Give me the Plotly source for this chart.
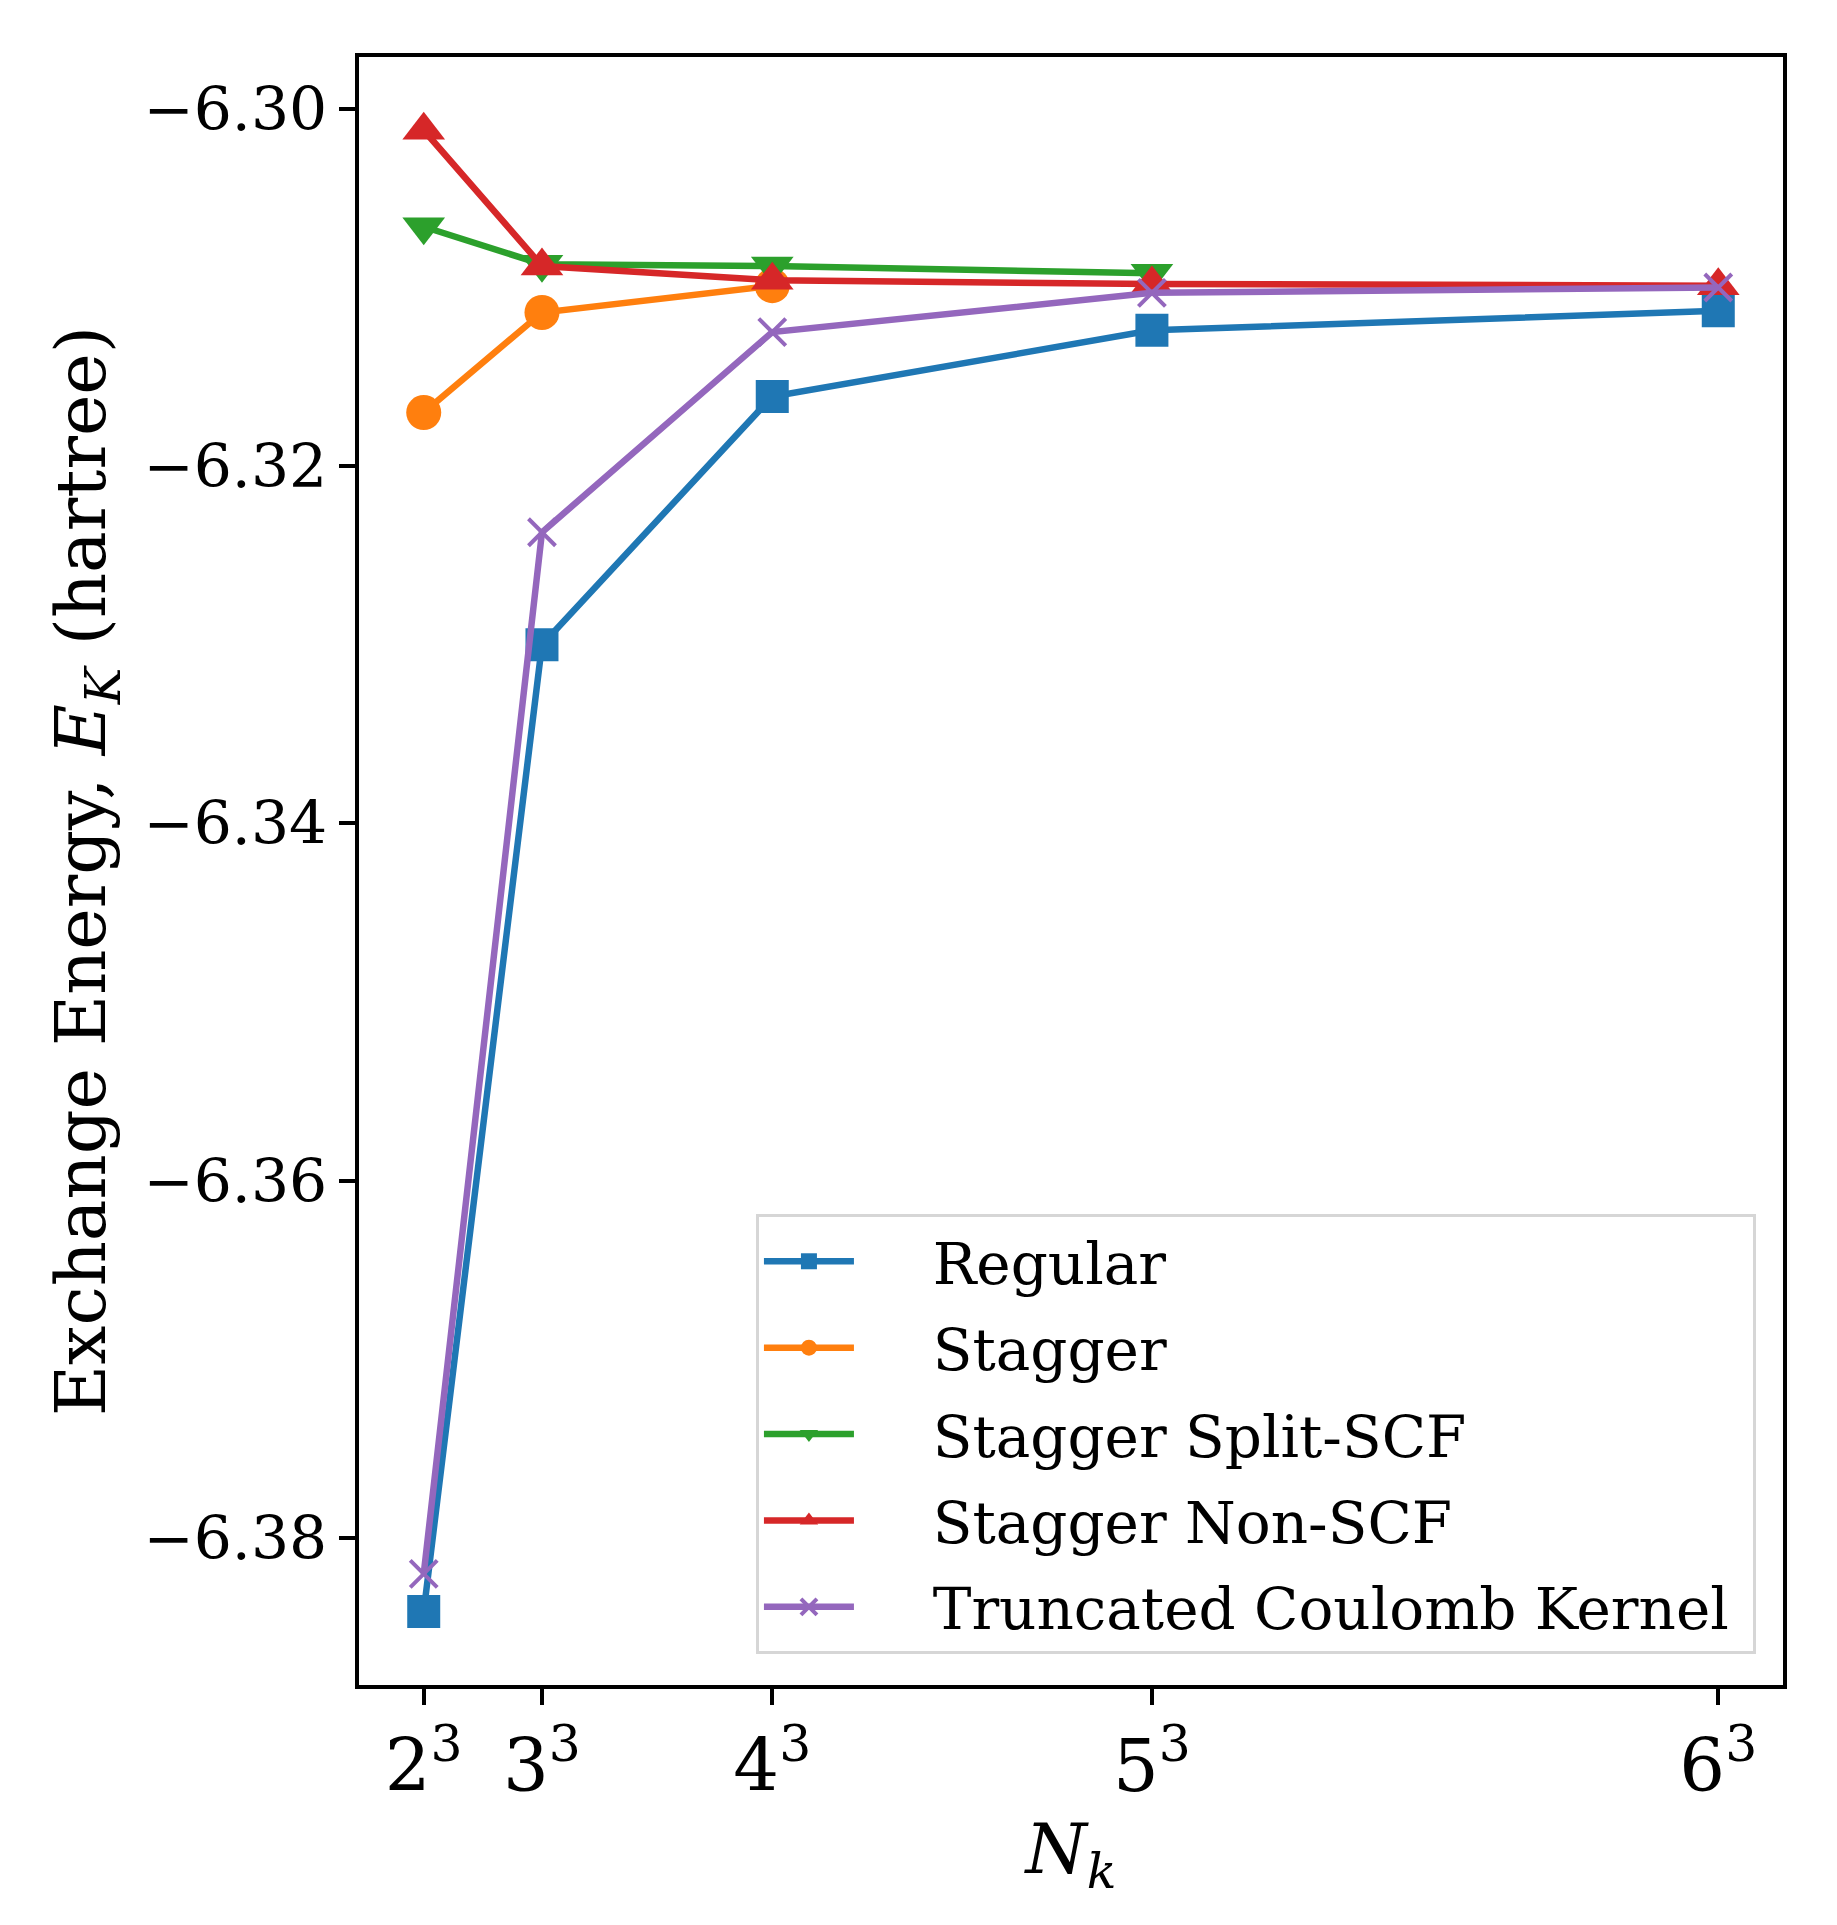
import plotly.graph_objects as go

# k-point mesh sizes (N_k = n^3)
nk = [8, 27, 64, 125, 216]
nk_labels = ["2<sup>3</sup>", "3<sup>3</sup>", "4<sup>3</sup>", "5<sup>3</sup>", "6<sup>3</sup>"]

# exchange energies (hartree)
regular = [-6.3841, -6.3300, -6.3161, -6.3124, -6.3113]
stagger = [-6.3170, -6.3114, -6.3099]
stagger_split_scf = [-6.3066, -6.3087, -6.3088, -6.3092]
stagger_non_scf = [-6.3012, -6.3088, -6.3096, -6.3098, -6.3099]
truncated_coulomb = [-6.3820, -6.3237, -6.3125, -6.3103, -6.3100]

FONT = "DejaVu Serif"
GAP = "\u00a0" * 4  # space between legend line sample and label

series = [
    ("Regular", regular, "#1f77b4", "square", 33),
    ("Stagger", stagger, "#ff7f0e", "circle", 35),
    ("Stagger Split-SCF", stagger_split_scf, "#2ca02c", "triangle-down", 37),
    ("Stagger Non-SCF", stagger_non_scf, "#d62728", "triangle-up", 37),
    ("Truncated Coulomb Kernel", truncated_coulomb, "#9467bd", "x-thin", 27),
]

fig = go.Figure()
for i, (name, vals, color, symbol, size) in enumerate(series):
    marker = dict(symbol=symbol, size=size, color=color)
    if symbol == "x-thin":
        marker["line"] = dict(color=color, width=4)
    fig.add_trace(go.Scatter(
        x=nk[:len(vals)], y=vals, name=GAP + name + "\u00a0", mode="lines+markers",
        line=dict(color=color, width=6.5), marker=marker,
        legendgroup=str(i),
    ))

fig.update_layout(
    width=1837, height=1925,
    margin=dict(l=351, r=62, t=49, b=248),
    paper_bgcolor="white", plot_bgcolor="white",
    font=dict(family=FONT, size=58, color="black"),
    showlegend=True,
    legend=dict(
        x=0.981, y=0.019, xanchor="right", yanchor="bottom",
        bgcolor="rgba(255,255,255,0.8)", bordercolor="#d6d6d6", borderwidth=3,
        font=dict(family=FONT, size=58), itemwidth=90,
        traceorder="grouped", tracegroupgap=8,
    ),
)

fig.update_xaxes(
    range=[-2.4, 226.4], tickmode="array", tickvals=nk, ticktext=nk_labels,
    tickfont=dict(size=72), showgrid=False, zeroline=False,
    showline=True, mirror=True, linecolor="black", linewidth=3.5,
    ticks="outside", ticklen=16, tickwidth=3.5, tickcolor="black",
    title=dict(text="<i>N</i><sub><i>k</i></sub>", font=dict(size=70), standoff=8),
)
fig.update_yaxes(
    range=[-6.38822, -6.2971], tickmode="array",
    tickvals=[-6.38, -6.36, -6.34, -6.32, -6.30], tickformat=".2f",
    tickfont=dict(size=60), showgrid=False, zeroline=False,
    showline=True, mirror=True, linecolor="black", linewidth=3.5,
    ticks="outside", ticklen=16, tickwidth=3.5, tickcolor="black",
    title=dict(text="Exchange Energy, <i>E</i><sub><i>K</i></sub> (hartree)",
               font=dict(size=70), standoff=16),
)

fig.write_html("out.html")
